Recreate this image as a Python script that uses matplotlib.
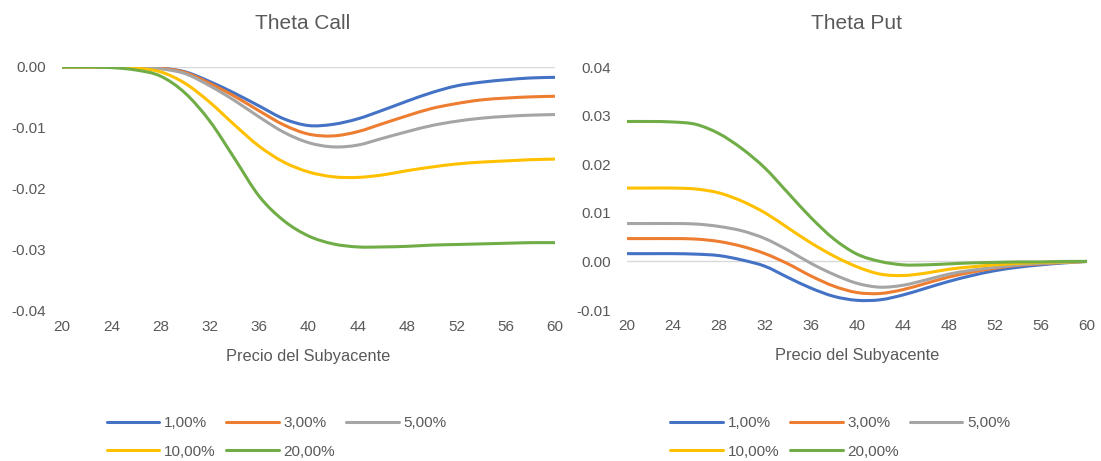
"""Theta de opciones call y put frente al precio del subyacente, por volatilidad."""

import matplotlib.pyplot as plt
from matplotlib.lines import Line2D
from matplotlib.patches import PathPatch
from matplotlib.path import Path
from matplotlib.ticker import FormatStrFormatter

plt.rcParams["font.family"] = ["Liberation Sans", "DejaVu Sans"]

precio = [20, 22, 24, 26, 28, 30, 32, 34, 36, 38, 40,
          42, 44, 46, 48, 50, 52, 54, 56, 58, 60]

etiquetas = ["1,00%", "3,00%", "5,00%", "10,00%", "20,00%"]
colores = ["#4472C4", "#ED7D31", "#A5A5A5", "#FFC000", "#70AD47"]

theta_call_1 = [0, 0, 0, 0, -0.0002, -0.0008, -0.0024, -0.0043, -0.0064, -0.0085, -0.0096,
                -0.0094, -0.0085, -0.0071, -0.0056, -0.0042, -0.0031, -0.0025, -0.0021, -0.0018, -0.0017]
theta_call_3 = [0, 0, 0, 0, -0.0002, -0.0009, -0.0027, -0.0048, -0.0072, -0.0095, -0.0110,
                -0.0113, -0.0106, -0.0093, -0.0080, -0.0068, -0.0060, -0.0054, -0.0051, -0.0049, -0.0048]
theta_call_5 = [0, 0, 0, 0, -0.0003, -0.0011, -0.0031, -0.0055, -0.0082, -0.0107, -0.0124,
                -0.0131, -0.0128, -0.0117, -0.0106, -0.0096, -0.0089, -0.0084, -0.0081, -0.0079, -0.0078]
theta_call_10 = [0, 0, 0, -0.0002, -0.0008, -0.0027, -0.0058, -0.0095, -0.0130, -0.0156, -0.0172,
                 -0.0180, -0.0181, -0.0177, -0.0170, -0.0164, -0.0159, -0.0156, -0.0154, -0.0152, -0.0151]
theta_call_20 = [0, 0, -0.0001, -0.0005, -0.0015, -0.0043, -0.0089, -0.0150, -0.0212, -0.0252, -0.0277,
                 -0.0290, -0.0295, -0.0295, -0.0294, -0.0292, -0.0291, -0.0290, -0.0289, -0.0288, -0.0288]

theta_put_1 = [0.0016, 0.0016, 0.0016, 0.0015, 0.0012, 0.0003, -0.0010, -0.0033, -0.0055, -0.0072, -0.0080,
               -0.0079, -0.0069, -0.0055, -0.0041, -0.0029, -0.0019, -0.0012, -0.0007, -0.0003, 0]
theta_put_3 = [0.0047, 0.0047, 0.0047, 0.0046, 0.0041, 0.0031, 0.0016, -0.0005, -0.0030, -0.0051, -0.0064,
               -0.0066, -0.0058, -0.0045, -0.0032, -0.0022, -0.0014, -0.0008, -0.0005, -0.0002, 0]
theta_put_5 = [0.0078, 0.0078, 0.0078, 0.0077, 0.0072, 0.0063, 0.0047, 0.0023, -0.0004, -0.0027, -0.0045,
               -0.0053, -0.0049, -0.0038, -0.0026, -0.0018, -0.0012, -0.0007, -0.0004, -0.0002, 0]
theta_put_10 = [0.0151, 0.0151, 0.0151, 0.0149, 0.0141, 0.0124, 0.0100, 0.0069, 0.0038, 0.0011, -0.0011,
                -0.0026, -0.0029, -0.0024, -0.0016, -0.0011, -0.0007, -0.0004, -0.0002, -0.0001, 0]
theta_put_20 = [0.0288, 0.0288, 0.0287, 0.0282, 0.0263, 0.0232, 0.0192, 0.0141, 0.0090, 0.0046, 0.0015,
                0.0000, -0.0007, -0.0007, -0.0005, -0.0003, -0.0002, -0.0001, -0.0001, 0, 0]

series_call = [theta_call_1, theta_call_3, theta_call_5, theta_call_10, theta_call_20]
series_put = [theta_put_1, theta_put_3, theta_put_5, theta_put_10, theta_put_20]

GRIS_TEXTO = "#595959"


def linea_suavizada(xs, ys):
    """Curva Catmull-Rom (bezier cubica) que pasa por todos los puntos."""
    pts = list(zip(xs, ys))
    verts = [pts[0]]
    codes = [Path.MOVETO]
    n = len(pts)
    for i in range(n - 1):
        p0 = pts[max(i - 1, 0)]
        p1 = pts[i]
        p2 = pts[i + 1]
        p3 = pts[min(i + 2, n - 1)]
        c1 = (p1[0] + (p2[0] - p0[0]) / 6, p1[1] + (p2[1] - p0[1]) / 6)
        c2 = (p2[0] - (p3[0] - p1[0]) / 6, p2[1] - (p3[1] - p1[1]) / 6)
        verts += [c1, c2, p2]
        codes += [Path.CURVE4] * 3
    return Path(verts, codes)


fig = plt.figure(figsize=(11.01, 4.61), dpi=100)
ax_call = fig.add_axes([0.0563, 0.3254, 0.4478, 0.5293])
ax_put = fig.add_axes([0.5695, 0.3275, 0.4178, 0.5270])


def dibujar(ax, series, ylim, yticks, titulo, xc):
    ax.axhline(0, color="#D9D9D9", lw=1.0, zorder=1)
    for vals, col in zip(series, colores):
        ax.add_patch(PathPatch(linea_suavizada(precio, vals), fill=False,
                               edgecolor=col, lw=2.2, capstyle="round", zorder=3))
    ax.set_xlim(20, 60)
    ax.set_ylim(*ylim)
    ax.set_xticks(range(20, 61, 4))
    ax.set_yticks(yticks)
    ax.yaxis.set_major_formatter(FormatStrFormatter("%.2f"))
    for s in ax.spines.values():
        s.set_visible(False)
    ax.tick_params(length=0, labelsize=11, colors=GRIS_TEXTO)
    ax.tick_params(axis="y", pad=11.5)
    ax.tick_params(axis="x", pad=6.5)
    ax.set_xlabel("Precio del Subyacente", fontsize=11.8, color=GRIS_TEXTO, labelpad=10.5)
    fig.text(xc, 0.948, titulo, ha="center", va="center", fontsize=15, color=GRIS_TEXTO)


dibujar(ax_call, series_call, (-0.04, 0.0),
        [-0.04, -0.03, -0.02, -0.01, 0.0], "Theta Call", 0.275)
dibujar(ax_put, series_put, (-0.01, 0.04),
        [-0.01, 0.0, 0.01, 0.02, 0.03, 0.04], "Theta Put", 0.778)

# leyenda en filas: 1%, 3%, 5% / 10%, 20%
muestras = [Line2D([], [], color=c, lw=2.2, solid_capstyle="round") for c in colores]
orden = [0, 3, 1, 4, 2]
for x0 in (0.0845, 0.5965):
    fig.legend([muestras[i] for i in orden], [etiquetas[i] for i in orden],
               loc="upper left", bbox_to_anchor=(x0, 0.127), ncol=3,
               frameon=False, fontsize=11, handlelength=3.45, handletextpad=0.3,
               columnspacing=0.7, labelspacing=0.95, labelcolor=GRIS_TEXTO)

fig.savefig("out.png", dpi=100, facecolor="white")
